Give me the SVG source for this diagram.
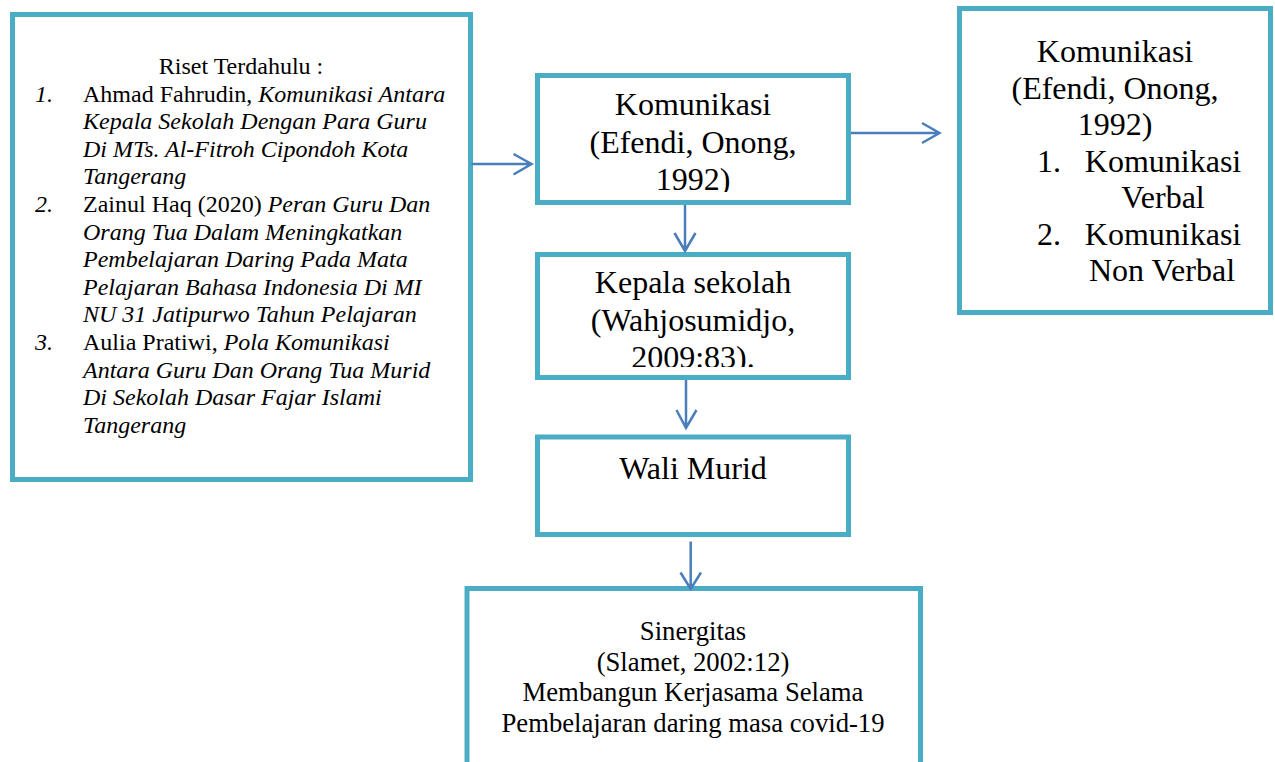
<svg xmlns="http://www.w3.org/2000/svg" width="1275" height="762" viewBox="0 0 1275 762">
<style>
.box{fill:#ffffff;stroke:#4bacc6;stroke-width:5}
.t{font-family:"Liberation Serif","Times New Roman",serif;fill:#000000}
.s24{font-size:24px}
.s32{font-size:32px}
.s27{font-size:26.7px}
.i{font-style:italic}
.c{text-anchor:middle}
.arr{fill:none;stroke:#4a7ebb;stroke-width:2.5}
</style>
<defs>
<clipPath id="clipKom"><rect x="540" y="78" width="306" height="114"/></clipPath>
<clipPath id="clipKep"><rect x="540" y="257" width="306" height="110"/></clipPath>
</defs>
<rect width="1275" height="762" fill="#ffffff"/>

<g id="riset">
<rect class="box" x="12.5" y="14.5" width="458" height="465"/>
<text class="t s24 c" x="241" y="74">Riset Terdahulu :</text>
<text class="t s24 i" x="35" y="101.6">1.</text>
<text class="t s24" x="83" y="101.6">Ahmad Fahrudin, <tspan class="i">Komunikasi Antara</tspan></text>
<text class="t s24 i" x="83" y="129.2">Kepala Sekolah Dengan Para Guru</text>
<text class="t s24 i" x="83" y="156.8">Di MTs. Al-Fitroh Cipondoh Kota</text>
<text class="t s24 i" x="83" y="184.4">Tangerang</text>
<text class="t s24 i" x="35" y="212">2.</text>
<text class="t s24" x="83" y="212">Zainul Haq (2020) <tspan class="i">Peran Guru Dan</tspan></text>
<text class="t s24 i" x="83" y="239.6">Orang Tua Dalam Meningkatkan</text>
<text class="t s24 i" x="83" y="267.2">Pembelajaran Daring Pada Mata</text>
<text class="t s24 i" x="83" y="294.8">Pelajaran Bahasa Indonesia Di MI</text>
<text class="t s24 i" x="83" y="322.4">NU 31 Jatipurwo Tahun Pelajaran</text>
<text class="t s24 i" x="35" y="350">3.</text>
<text class="t s24" x="83" y="350">Aulia Pratiwi, <tspan class="i">Pola Komunikasi</tspan></text>
<text class="t s24 i" x="83" y="377.6">Antara Guru Dan Orang Tua Murid</text>
<text class="t s24 i" x="83" y="405.2">Di Sekolah Dasar Fajar Islami</text>
<text class="t s24 i" x="83" y="432.8">Tangerang</text>
</g>

<g id="komunikasi">
<rect class="box" x="537.5" y="75.5" width="311" height="127"/>
<g clip-path="url(#clipKom)">
<text class="t s32 c" x="693" y="115">Komunikasi</text>
<text class="t s32 c" x="693" y="152.5">(Efendi, Onong,</text>
<text class="t s32 c" x="693" y="189.5">1992)</text>
</g>
</g>

<g id="kepala">
<rect class="box" x="537.5" y="254.5" width="311" height="123"/>
<g clip-path="url(#clipKep)">
<text class="t s32 c" x="693" y="293.3">Kepala sekolah</text>
<text class="t s32 c" x="693" y="330.5">(Wahjosumidjo,</text>
<text class="t s32 c" x="693" y="367.7">2009:83).</text>
</g>
</g>

<g id="wali">
<rect class="box" x="537.5" y="437" width="311" height="97.5"/>
<text class="t s32 c" x="693" y="479.3">Wali Murid</text>
</g>

<g id="sinergitas">
<rect class="box" x="467" y="588.5" width="453.5" height="200"/>
<text class="t s27 c" x="693" y="640">Sinergitas</text>
<text class="t s27 c" x="693" y="670.6">(Slamet, 2002:12)</text>
<text class="t s27 c" x="693" y="701.2">Membangun Kerjasama Selama</text>
<text class="t s27 c" x="693" y="731.8">Pembelajaran daring masa covid-19</text>
</g>

<g id="komunikasi-jenis">
<rect class="box" x="959.5" y="8.5" width="311" height="304"/>
<text class="t s32 c" x="1115" y="61.7">Komunikasi</text>
<text class="t s32 c" x="1115" y="98.5">(Efendi, Onong,</text>
<text class="t s32 c" x="1115" y="135">1992)</text>
<text class="t s32" x="1037" y="171.5">1.</text>
<text class="t s32 c" x="1163" y="171.5">Komunikasi</text>
<text class="t s32 c" x="1163" y="207.5">Verbal</text>
<text class="t s32" x="1037" y="244.5">2.</text>
<text class="t s32 c" x="1163" y="244.5">Komunikasi</text>
<text class="t s32 c" x="1162" y="280.7">Non Verbal</text>
</g>

<g id="connectors">
<path class="arr" d="M471.5 164H531.5M513.5 154L531.5 164L513.5 174.5"/>
<path class="arr" d="M851 133H939.5M922 123L939.5 133L922 143"/>
<path class="arr" d="M685 205V251M674.5 233L685 251L695.5 233"/>
<path class="arr" d="M686 380V428M676.5 410L686 428L696.5 410"/>
<path class="arr" d="M690.7 541.5V589M680.5 572.5L690.7 589L701 572.5"/>
</g>
</svg>
